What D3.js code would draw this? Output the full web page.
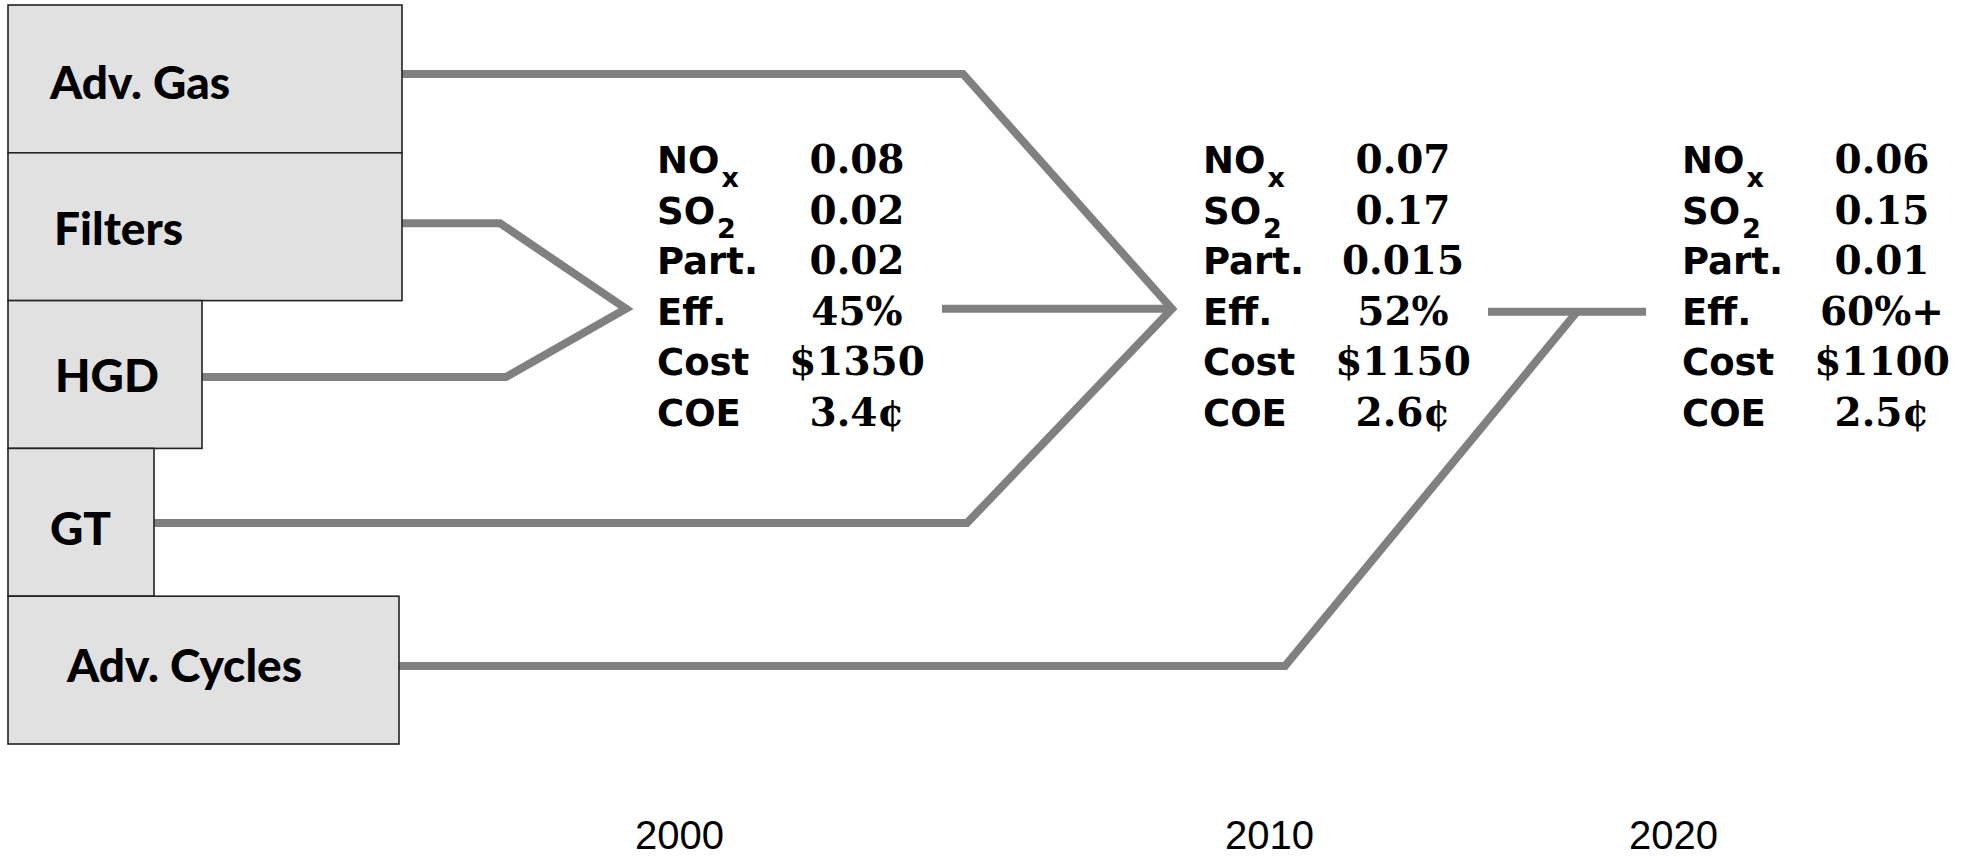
<!DOCTYPE html>
<html>
<head>
<meta charset="utf-8">
<script src="https://cdn.jsdelivr.net/npm/d3@7"></script>
<style>
  html, body { margin: 0; padding: 0; background: #fff; }
  svg { display: block; }
</style>
</head>
<body>
<svg id="chart" width="1975" height="857"></svg>
<script>
// ---------------- DATA ----------------
const technologies = ["Adv. Gas", "Filters", "HGD", "GT", "Adv. Cycles"];
const years = ["2000", "2010", "2020"];
const metricNames = ["NO", "SO", "Part.", "Eff.", "Cost", "COE"];
const metricSubscripts = ["x", "2", "", "", "", ""];
const values2000 = ["0.08", "0.02", "0.02", "45%", "$1350", "3.4¢"];
const values2010 = ["0.07", "0.17", "0.015", "52%", "$1150", "2.6¢"];
const values2020 = ["0.06", "0.15", "0.01", "60%+", "$1100", "2.5¢"];
// which technologies feed which milestone
const feeds2000 = ["Filters", "HGD"];
const feeds2010 = ["Adv. Gas", "GT"];
const feeds2020 = ["Adv. Cycles"];

// ---------------- LAYOUT ----------------
const boxLeft = 8;
const boxWidths = [394, 394, 194, 146, 391];
const labelDx = [42, 46, 47, 42, 59];
const labelDy = [20, 18, 17, 23, 12];
const lineDy = [-5, -3.5, 2.5, 0.7, -4];
const lineColor = "#808080";
const lineW = 8;

const svg = d3.select("#chart");

// Scales
const yBox = d3.scaleBand().domain(technologies).range([5, 744]).paddingInner(0);
const rowY = d3.scalePoint().domain(metricNames).range([173, 426]);
const colX = d3.scaleOrdinal().domain(years).range([657, 1203, 1682]);
const yearX = d3.scaleOrdinal().domain(years).range([679, 1269, 1673]);
const valueDx = 200;

const idx = t => technologies.indexOf(t);
const boxRight = t => boxLeft + boxWidths[idx(t)];
const lineY = t => yBox(t) + yBox.bandwidth() / 2 + lineDy[idx(t)];
const effY = rowY("Eff.") - 16;

// junctions (tips of the converging arrows)
const tip2000 = [colX("2000") - 31, effY];
const tip2010 = [colX("2010") - 31, effY];
const tip2020 = [colX("2020") - 105, effY + 3];

const line = d3.line();
const gLines = svg.append("g")
  .attr("fill", "none")
  .attr("stroke", lineColor)
  .attr("stroke-width", lineW)
  .attr("stroke-linejoin", "miter")
  .attr("stroke-miterlimit", 10);

// 2000 convergence: Filters + HGD
gLines.append("path").attr("d", line([
  [boxRight(feeds2000[0]), lineY(feeds2000[0])],
  [500, lineY(feeds2000[0])],
  tip2000,
  [506, lineY(feeds2000[1])],
  [boxRight(feeds2000[1]), lineY(feeds2000[1])]
]));

// 2010 convergence: Adv. Gas + GT
gLines.append("path").attr("d", line([
  [boxRight(feeds2010[0]), lineY(feeds2010[0])],
  [963, lineY(feeds2010[0])],
  tip2010,
  [967, lineY(feeds2010[1])],
  [boxRight(feeds2010[1]), lineY(feeds2010[1])]
]));

// 2000 milestone -> 2010
gLines.append("path").attr("d", line([[colX("2000") + 285, effY], tip2010]));

// 2010 milestone -> 2020
gLines.append("path").attr("d", line([[colX("2010") + 285, tip2020[1]], [colX("2020") - 36, tip2020[1]]]));

// Adv. Cycles -> 2020
gLines.append("path").attr("d", line([
  [boxRight(feeds2020[0]), lineY(feeds2020[0])],
  [1285, lineY(feeds2020[0])],
  tip2020
]));

// Boxes
const gBoxes = svg.append("g");
const boxes = gBoxes.selectAll("g.box").data(technologies).join("g").attr("class", "box");
boxes.append("rect")
  .attr("x", boxLeft)
  .attr("y", d => yBox(d))
  .attr("width", d => boxWidths[idx(d)])
  .attr("height", yBox.bandwidth())
  .attr("fill", "#e1e1e1")
  .attr("stroke", "#222")
  .attr("stroke-width", 1.6);
boxes.append("text")
  .attr("x", d => boxLeft + labelDx[idx(d)])
  .attr("y", d => yBox(d) + yBox.bandwidth() / 2 + labelDy[idx(d)])
  .attr("font-family", "Lato, 'Open Sans', sans-serif")
  .attr("font-weight", 900)
  .attr("font-size", 46)
  .attr("fill", "#000")
  .text(d => d);

// Metric tables
const tables = [values2000, values2010, values2020];
years.forEach((yr, yi) => {
  const g = svg.append("g").attr("class", "table");
  const rows = g.selectAll("g.row").data(metricNames).join("g").attr("class", "row");
  const lbl = rows.append("text")
    .attr("x", colX(yr))
    .attr("y", d => rowY(d))
    .attr("font-family", "'DejaVu Sans', sans-serif")
    .attr("font-weight", 700)
    .attr("font-size", 37)
    .attr("fill", "#000");
  lbl.append("tspan").text(d => d);
  lbl.append("tspan")
    .attr("font-size", 27)
    .attr("dx", 2)
    .attr("dy", 14)
    .text((d, i) => metricSubscripts[i]);
  rows.append("text")
    .attr("x", colX(yr) + valueDx)
    .attr("y", d => rowY(d))
    .attr("text-anchor", "middle")
    .attr("font-family", "'DejaVu Serif', serif")
    .attr("font-weight", 700)
    .attr("font-size", 39)
    .attr("fill", "#000")
    .text((d, i) => tables[yi][i]);
});

// Year axis
const axis = d3.axisBottom(yearX).tickSize(0).tickPadding(0);
const gAxis = svg.append("g").attr("transform", "translate(0,849)").call(axis);
gAxis.select(".domain").remove();
gAxis.selectAll("text")
  .attr("y", 0).attr("dy", 0)
  .attr("font-family", "'Liberation Sans', Arial, sans-serif")
  .attr("font-size", 40)
  .attr("fill", "#000");
</script>
</body>
</html>
